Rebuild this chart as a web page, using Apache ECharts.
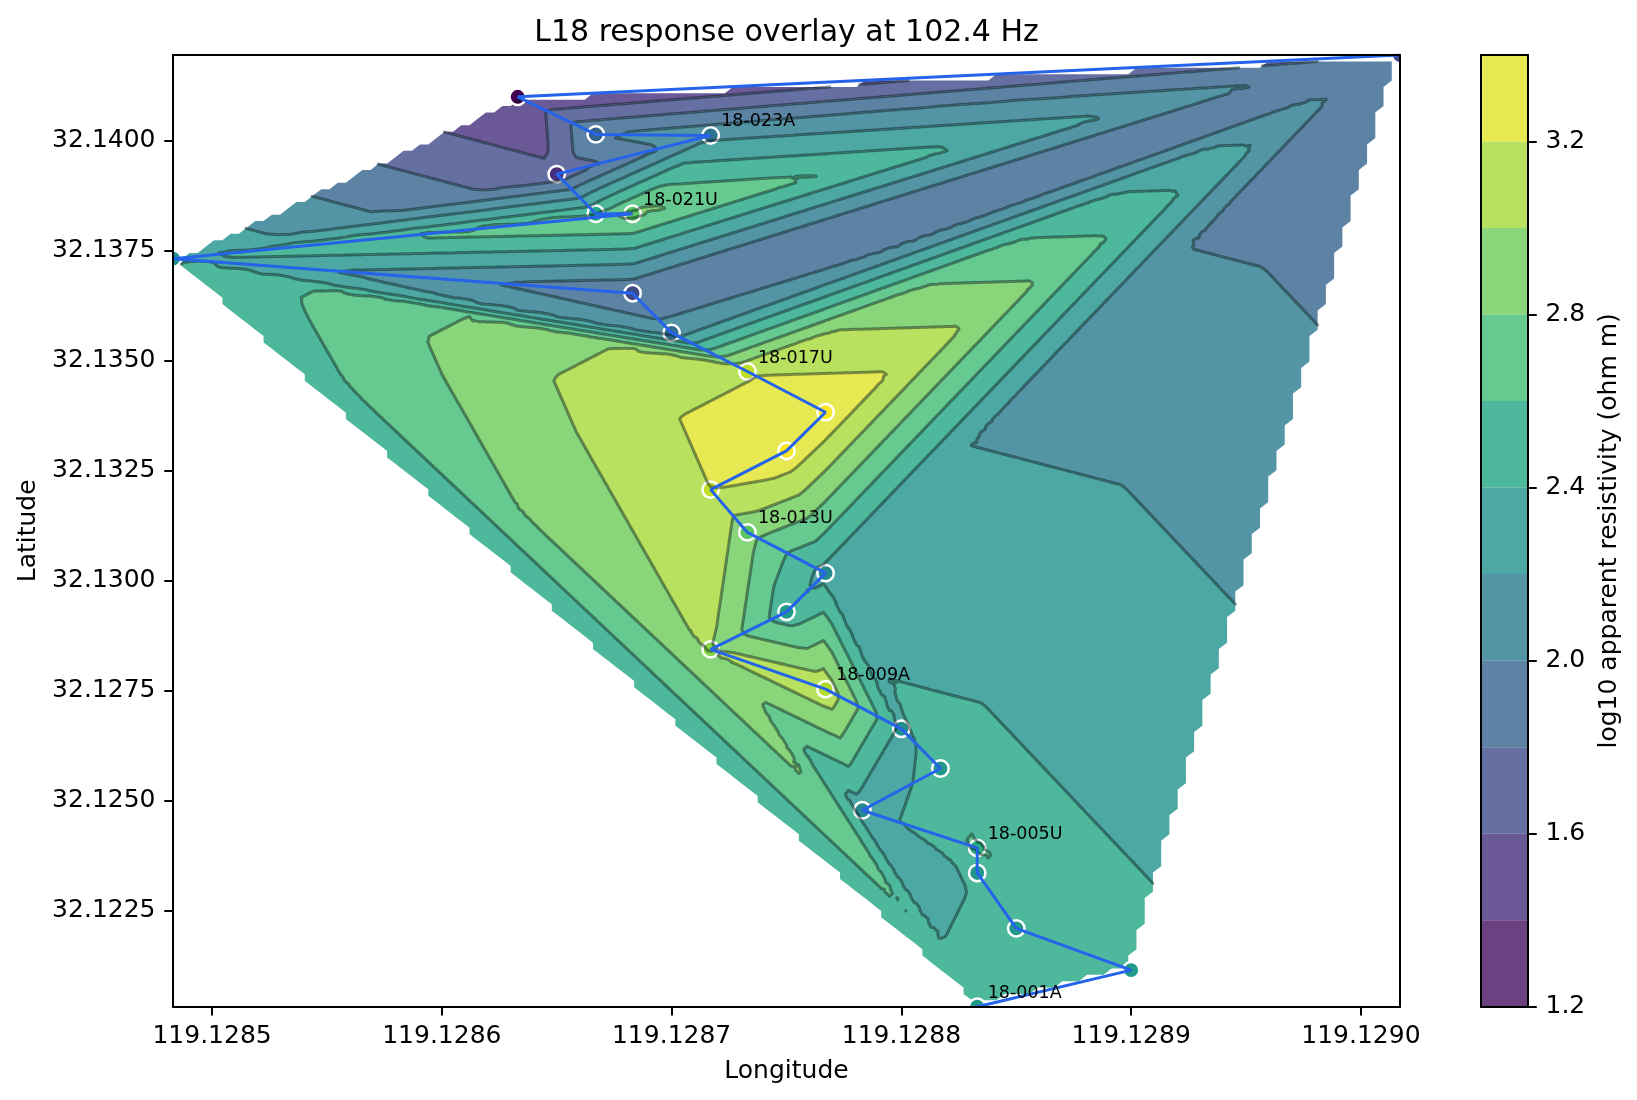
<!DOCTYPE html>
<html><head><meta charset="utf-8">
<style>html,body{margin:0;padding:0;background:#fff}#c{width:1637px;height:1100px}</style>
<script src="https://cdn.jsdelivr.net/npm/echarts@6/dist/echarts.min.js"></script>
</head><body><div id="c"></div>
<script>
// ---- data: stations in survey order ----
const stationLon = [119.128833,119.1289,119.12885,119.128833,119.128833,119.128783,119.128817,119.1288,119.128767,119.128717,119.12875,119.128767,119.128733,119.128717,119.12875,119.128767,119.128733,119.1287,119.128683,119.128483,119.128683,119.128667,119.12865,119.128717,119.128667,119.128633,119.129017];
const stationLat = [32.120316,32.121147,32.122097,32.123356,32.123925,32.12478,32.12573,32.126632,32.127535,32.128437,32.129291,32.13017,32.131096,32.132069,32.132948,32.133827,32.134753,32.135631,32.136533,32.137317,32.138338,32.138338,32.13924,32.140119,32.140142,32.140997,32.141947];
const stationLog = [2.45,2.46,2.45,2.43,2.635,2.29,2.46,2.36,3.15,3.02,2.47,2.33,2.87,3.2,3.37,3.38,3.18,2.086,1.82,2.4,2.86,2.56,1.65,2.15,2.0,1.38,1.805];
const labelIndex = [0,4,8,12,16,20,23];
const labelText = ['18-001A','18-005U','18-009A','18-013U','18-017U','18-021U','18-023A'];
const levels = [1.2,1.4,1.6,1.8,2.0,2.2,2.4,2.6,2.8,3.0,3.2,3.4];
const lonTicks = [119.1285,119.1286,119.1287,119.1288,119.1289,119.129];
const latTicks = [32.1225,32.125,32.1275,32.13,32.1325,32.135,32.1375,32.14];
const cbarTicks = [1.2,1.6,2.0,2.4,2.8,3.2];
const viridis = [[68,1,84],[72,36,117],[65,68,135],[53,95,141],[42,120,142],[33,145,140],[34,168,132],[68,191,112],[122,209,81],[189,223,38],[253,231,37]];
const GRID_N = 150;

function cmap(t){t=Math.max(0,Math.min(1,t))*10;const i=Math.min(9,Math.floor(t)),f=t-i;
  return viridis[i].map((c,k)=>Math.round(c+(viridis[i+1][k]-c)*f));}
const rgb=(c,a)=>a===undefined?`rgb(${c.join(',')})`:`rgba(${c.join(',')},${a})`;

const xMin=Math.min(...stationLon),xMax=Math.max(...stationLon),yMin=Math.min(...stationLat),yMax=Math.max(...stationLat);
const vMin=Math.min(...stationLog),vMax=Math.max(...stationLog);

// Delaunay in raw lon/lat space
function delaunay(px,py){
  const n=px.length,S=1e5;
  const X=px.concat([-S,S,0]),Y=py.concat([-S,-S,S]);
  let tris=[[n,n+1,n+2]];
  const inC=(t,x,y)=>{const ax=X[t[0]]-x,ay=Y[t[0]]-y,bx=X[t[1]]-x,by=Y[t[1]]-y,cx=X[t[2]]-x,cy=Y[t[2]]-y;
    const d=(ax*ax+ay*ay)*(bx*cy-cx*by)-(bx*bx+by*by)*(ax*cy-cx*ay)+(cx*cx+cy*cy)*(ax*by-bx*ay);
    const o=(X[t[1]]-X[t[0]])*(Y[t[2]]-Y[t[0]])-(Y[t[1]]-Y[t[0]])*(X[t[2]]-X[t[0]]);
    return o>0?d>0:d<0;};
  for(let i=0;i<n;i++){
    const bad=[],keep=[];
    tris.forEach(t=>(inC(t,X[i],Y[i])?bad:keep).push(t));
    const edges={};
    bad.forEach(t=>[[t[0],t[1]],[t[1],t[2]],[t[2],t[0]]].forEach(e=>{const k=Math.min(...e)+'_'+Math.max(...e);edges[k]=edges[k]?null:e;}));
    Object.values(edges).forEach(e=>{if(e)keep.push([e[0],e[1],i]);});
    tris=keep;
  }
  return tris.filter(t=>t.every(v=>v<n));
}
const sx=stationLon.map(v=>(v-xMin)*1000),sy=stationLat.map(v=>(v-yMin)*1000);
const tris=delaunay(sx,sy);
function interp(x,y){
  for(const t of tris){
    const [a,b,c]=t;
    const d=(sy[b]-sy[c])*(sx[a]-sx[c])+(sx[c]-sx[b])*(sy[a]-sy[c]);
    const l1=((sy[b]-sy[c])*(x-sx[c])+(sx[c]-sx[b])*(y-sy[c]))/d;
    const l2=((sy[c]-sy[a])*(x-sx[c])+(sx[a]-sx[c])*(y-sy[c]))/d;
    const l3=1-l1-l2;
    if(l1>=-1e-9&&l2>=-1e-9&&l3>=-1e-9)return l1*stationLog[a]+l2*stationLog[b]+l3*stationLog[c];
  }
  return null;
}
// regular grid of the interpolated field
const gx=[],gy=[],gz=[];
for(let i=0;i<GRID_N;i++){gx.push(xMin+(xMax-xMin)*i/(GRID_N-1));gy.push(yMin+(yMax-yMin)*i/(GRID_N-1));}
for(let j=0;j<GRID_N;j++){const r=[];for(let i=0;i<GRID_N;i++)r.push(interp((gx[i]-xMin)*1000,(gy[j]-yMin)*1000));gz.push(r);}
// small triangles of the grid [x,y,z]
const cells=[];
for(let j=0;j<GRID_N-1;j++)for(let i=0;i<GRID_N-1;i++){
  const q=[[gx[i],gy[j],gz[j][i]],[gx[i+1],gy[j],gz[j][i+1]],[gx[i+1],gy[j+1],gz[j+1][i+1]],[gx[i],gy[j+1],gz[j+1][i]]];
  const ok=q.filter(p=>p[2]!==null);
  if(ok.length===4){
    const m=[(gx[i]+gx[i+1])/2,(gy[j]+gy[j+1])/2,(q[0][2]+q[1][2]+q[2][2]+q[3][2])/4];
    for(let k=0;k<4;k++)cells.push([q[k],q[(k+1)%4],m]);
  } else if(ok.length===3) cells.push(ok);
}
function clip(poly,lev,above){
  const out=[];
  for(let i=0;i<poly.length;i++){
    const a=poly[i],b=poly[(i+1)%poly.length];
    const ia=above?a[2]>=lev:a[2]<=lev, ib=above?b[2]>=lev:b[2]<=lev;
    if(ia)out.push(a);
    if(ia!==ib){const f=(lev-a[2])/(b[2]-a[2]);out.push([a[0]+(b[0]-a[0])*f,a[1]+(b[1]-a[1])*f,lev]);}
  }
  return out;
}
const bandPolys=levels.slice(0,-1).map(()=>[]);
const linePaths=levels.map(()=>[]);
cells.forEach(t=>{
  const lo=Math.min(t[0][2],t[1][2],t[2][2]),hi=Math.max(t[0][2],t[1][2],t[2][2]);
  bandPolys.forEach((b,k)=>{
    if(hi<levels[k]||lo>levels[k+1])return;
    let p=clip(t,levels[k],true); if(p.length>2)p=clip(p,levels[k+1],false);
    if(p.length>2)b.push(p);
  });
  levels.forEach((lv,k)=>{
    if(lo>=lv||hi<=lv)return;
    const seg=[];
    for(let i=0;i<3;i++){const a=t[i],b=t[(i+1)%3];
      if((a[2]<lv)!==(b[2]<lv)){const f=(lv-a[2])/(b[2]-a[2]);seg.push([a[0]+(b[0]-a[0])*f,a[1]+(b[1]-a[1])*f]);}}
    if(seg.length===2)linePaths[k].push(seg);
  });
});
const bandColor=k=>cmap(((levels[k]+levels[k+1])/2-levels[0])/(levels[levels.length-1]-levels[0]));
const P=(api,p)=>{const c=api.coord([p[0],p[1]]);return c[0].toFixed(2)+' '+c[1].toFixed(2);};

const chart=echarts.init(document.getElementById('c'),null,{renderer:'canvas',width:1637,height:1100});
const FONT='"DejaVu Sans"';
const TICK={show:true,length:8.75,lineStyle:{color:'#000',width:2}};
const axisCommon={axisLine:{show:true,onZero:false,lineStyle:{color:'#000',width:2}},splitLine:{show:false}};
const hiddenSpine={show:true,axisLine:{show:true,onZero:false,lineStyle:{color:'#000',width:2}},axisTick:{show:false},axisLabel:{show:false},splitLine:{show:false},z:20};
const nameStyle={fontFamily:FONT,fontSize:25,color:'#000'};
const labStyle={fontFamily:FONT,fontSize:25,color:'#000',margin:17.5};
chart.setOption({
  animation:false,
  backgroundColor:'#fff',
  title:{text:'L18 response overlay at 102.4 Hz',left:781.5,top:13,textAlign:'center',textStyle:{fontFamily:FONT,fontSize:30,fontWeight:'normal',color:'#000'}},
  grid:[{left:173,top:55,width:1227,height:951.7},{left:1481,top:55,width:47,height:951.7}],
  xAxis:[
    Object.assign({},axisCommon,{type:'value',gridIndex:0,min:xMin,max:xMax,position:'bottom',z:20,
      name:'Longitude',nameLocation:'middle',nameGap:52.5,nameTextStyle:nameStyle,
      axisTick:Object.assign({},TICK,{customValues:lonTicks}),
      axisLabel:Object.assign({},labStyle,{customValues:lonTicks,formatter:v=>v.toFixed(4)})}),
    Object.assign({},hiddenSpine,{type:'value',gridIndex:0,min:xMin,max:xMax,position:'top'}),
    Object.assign({},hiddenSpine,{type:'value',gridIndex:1,min:0,max:1,position:'bottom'}),
    Object.assign({},hiddenSpine,{type:'value',gridIndex:1,min:0,max:1,position:'top'})
  ],
  yAxis:[
    Object.assign({},axisCommon,{type:'value',gridIndex:0,min:yMin,max:yMax,position:'left',z:20,
      name:'Latitude',nameLocation:'middle',nameGap:122,nameRotate:90,nameTextStyle:nameStyle,
      axisTick:Object.assign({},TICK,{customValues:latTicks}),
      axisLabel:Object.assign({},labStyle,{customValues:latTicks,formatter:v=>v.toFixed(4)})}),
    Object.assign({},hiddenSpine,{type:'value',gridIndex:0,min:yMin,max:yMax,position:'right'}),
    Object.assign({},axisCommon,{type:'value',gridIndex:1,min:1.2,max:3.4,position:'right',z:20,
      name:'log10 apparent resistivity (ohm m)',nameLocation:'middle',nameGap:69,nameRotate:90,nameTextStyle:nameStyle,
      axisTick:Object.assign({},TICK,{customValues:cbarTicks}),
      axisLabel:Object.assign({},labStyle,{customValues:cbarTicks,formatter:v=>v.toFixed(1)})}),
    Object.assign({},hiddenSpine,{type:'value',gridIndex:1,min:1.2,max:3.4,position:'left'})
  ],
  series:[
    {type:'custom',name:'bands',xAxisIndex:0,yAxisIndex:0,clip:true,z:2,silent:true,
      data:bandPolys.map((_,k)=>[xMin,yMin,k]),encode:{x:0,y:1},
      renderItem:(p,api)=>{const k=api.value(2);let d='';
        bandPolys[k].forEach(poly=>{d+='M'+poly.map(q=>P(api,q)).join('L')+'Z';});
        return {type:'path',shape:{pathData:d||'M0 0'},style:{fill:rgb(bandColor(k),0.8),stroke:null}};}},
    {type:'custom',name:'stations',xAxisIndex:0,yAxisIndex:0,clip:true,z:3,silent:true,
      data:stationLon.map((x,i)=>[x,stationLat[i],stationLog[i]]),encode:{x:0,y:1},
      renderItem:(p,api)=>{const c=api.coord([api.value(0),api.value(1)]);
        return {type:'circle',shape:{cx:c[0],cy:c[1],r:8.2},style:{fill:rgb(cmap((api.value(2)-vMin)/(vMax-vMin))),stroke:'#fff',lineWidth:2.5}};}},
    {type:'custom',name:'contours',xAxisIndex:0,yAxisIndex:0,clip:true,z:4,silent:true,
      data:levels.map((_,k)=>[xMin,yMin,k]),encode:{x:0,y:1},
      renderItem:(p,api)=>{const k=api.value(2);let d='';
        linePaths[k].forEach(s=>{d+='M'+P(api,s[0])+'L'+P(api,s[1]);});
        return {type:'path',shape:{pathData:d||'M0 0'},style:{fill:'none',stroke:'rgba(0,20,20,0.45)',lineWidth:3,lineCap:'round',lineJoin:'round'}};}},
    {type:'line',name:'profile',xAxisIndex:0,yAxisIndex:0,z:5,silent:true,showSymbol:false,symbol:'none',
      data:stationLon.map((x,i)=>[x,stationLat[i]]),lineStyle:{color:'#2563eb',width:3}},
    {type:'scatter',name:'labels',xAxisIndex:0,yAxisIndex:0,z:6,silent:true,clip:false,symbolSize:1,itemStyle:{color:'transparent'},
      data:labelIndex.map((s,i)=>({value:[stationLon[s],stationLat[s]],name:labelText[i]})),
      label:{show:true,position:'right',distance:0,offset:[10,-13.5],formatter:'{b}',fontFamily:FONT,fontSize:17.5,color:'#000',opacity:1}},
    {type:'custom',name:'colorbar',xAxisIndex:2,yAxisIndex:2,z:2,silent:true,
      data:bandPolys.map((_,k)=>[0,levels[k],k]),encode:{x:0,y:1},
      renderItem:(p,api)=>{const k=api.value(2),a=api.coord([0,levels[k]]),b=api.coord([1,levels[k+1]]);
        return {type:'rect',shape:{x:a[0],y:b[1],width:b[0]-a[0],height:a[1]-b[1]},style:{fill:rgb(bandColor(k),0.8),stroke:null}};}}
  ]
});
</script></body></html>
